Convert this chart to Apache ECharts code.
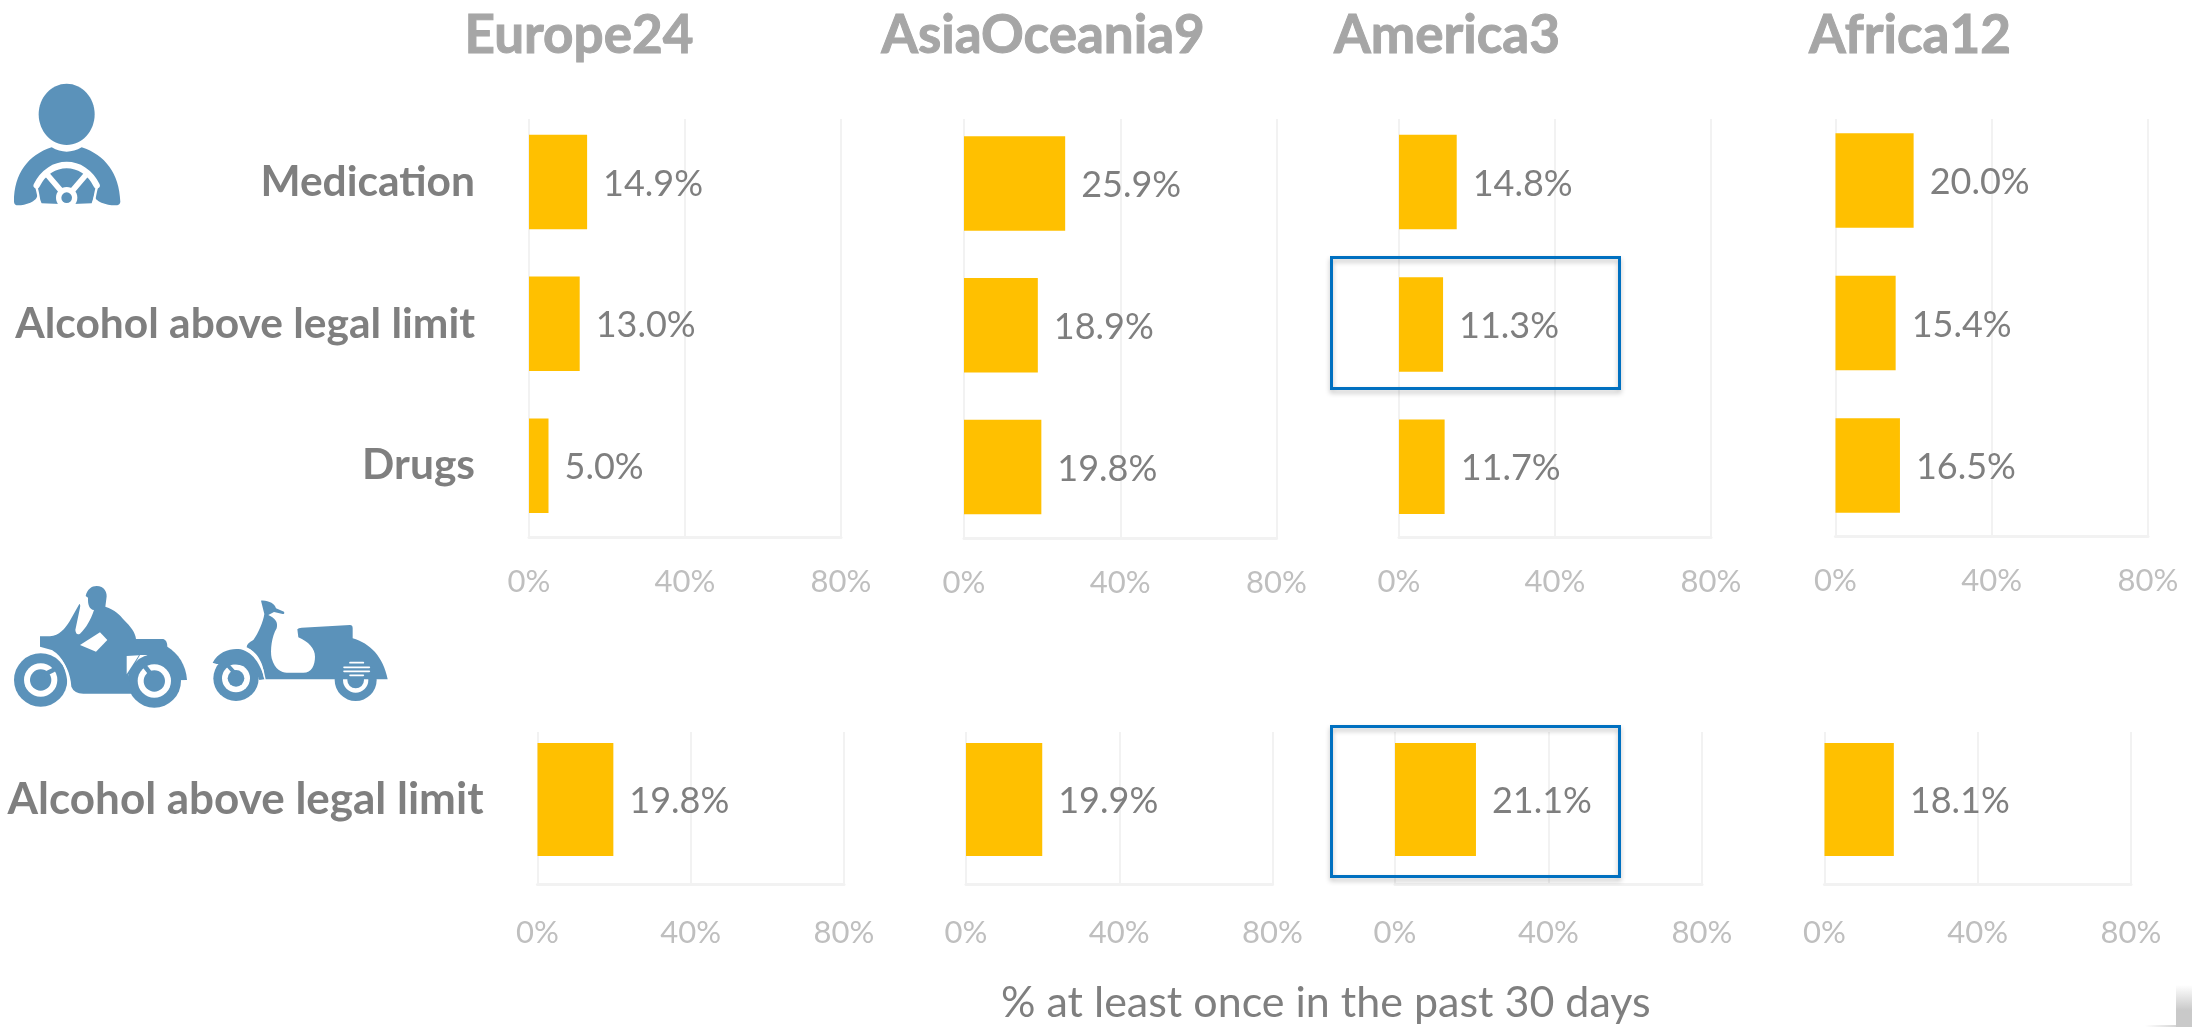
<!DOCTYPE html>
<html>
<head>
<meta charset="utf-8">
<title>Risky riding and driving by region</title>
<script src="https://cdn.jsdelivr.net/npm/echarts@6/dist/echarts.min.js"></script>
<style>
  html, body { margin: 0; padding: 0; background: #fff; }
  #main { width: 2192px; height: 1027px; }
</style>
</head>
<body>
<div id="main"></div>
<script>
// data
const regions = ['Europe24', 'AsiaOceania9', 'America3', 'Africa12'];
const driverRows = ['Medication', 'Alcohol above legal limit', 'Drugs'];
const riderRows = ['Alcohol above legal limit'];
const driverEurope = [14.9, 13.0, 5.0];
const driverAsia = [25.9, 18.9, 19.8];
const driverAmerica = [14.8, 11.3, 11.7];
const driverAfrica = [20.0, 15.4, 16.5];
const riderEurope = [19.8];
const riderAsia = [19.9];
const riderAmerica = [21.1];
const riderAfrica = [18.1];
const ticks = [0, 40, 80];
const xTitle = '% at least once in the past 30 days';

const FONT = 'Lato';
const BLUE = '#5b92ba';
const GRIDLINE = '#f2f2f2';

// pixel layout of the panels, kept apart from the values
const titleLayout = [574, 1038, 1442, 1905];
const driverLayout = [
  { left: 529, right: 841, top: 119, bottom: 537, barTop: 111, barBottom: 536.6 },
  { left: 964, right: 1276.5, top: 119, bottom: 538, barTop: 112.5, barBottom: 538 },
  { left: 1399, right: 1711, top: 119, bottom: 537.5, barTop: 110.8, barBottom: 538 },
  { left: 1835.5, right: 2148, top: 119, bottom: 536, barTop: 109.3, barBottom: 536.8 }
];
const riderLayout = [
  { left: 537.5, right: 844, top: 732, bottom: 884.5, barTop: 732, barBottom: 867 },
  { left: 966, right: 1272.5, top: 732, bottom: 884.5, barTop: 732, barBottom: 867 },
  { left: 1395, right: 1702, top: 732, bottom: 884.5, barTop: 732, barBottom: 867 },
  { left: 1824.5, right: 2131, top: 732, bottom: 884.5, barTop: 732, barBottom: 867 }
];

const grid = [], xAxis = [], yAxis = [], series = [];

function addPanel(box, rows, values, barWidth, showRows, tickMargin, rowFont, rowPad) {
  // frame grid: gridlines, bottom line and tick labels
  let g = grid.length;
  grid.push({ left: box.left, width: box.right - box.left, top: box.top, height: box.bottom - box.top });
  xAxis.push({
    type: 'value', gridIndex: g, min: ticks[0], max: ticks[2], interval: ticks[1],
    axisLine: { show: true, lineStyle: { color: GRIDLINE, width: 3 } },
    axisTick: { show: false },
    splitLine: { show: true, lineStyle: { color: GRIDLINE, width: 2 } },
    axisLabel: { formatter: '{value}%', color: '#bfbfbf', fontFamily: FONT, fontSize: 31, margin: tickMargin }
  });
  yAxis.push({ type: 'category', gridIndex: g, data: rows, show: false });

  // bar grid: same x scale, rows placed to sit where the picture has them
  g = grid.length;
  grid.push({ left: box.left, width: box.right - box.left, top: box.barTop, height: box.barBottom - box.barTop });
  xAxis.push({ type: 'value', gridIndex: g, min: ticks[0], max: ticks[2], show: false, splitLine: { show: false } });
  yAxis.push({
    type: 'category', gridIndex: g, data: rows, inverse: true,
    axisLine: { show: false }, axisTick: { show: false },
    axisLabel: {
      show: showRows, color: '#7f7f7f', fontFamily: FONT, fontWeight: 'bold', fontSize: rowFont, margin: 54,
      padding: [rowPad, 0, 0, 0]
    }
  });
  series.push({
    type: 'bar', xAxisIndex: g, yAxisIndex: g, data: values, barWidth: barWidth, z: 3,
    itemStyle: { color: '#ffc000' },
    label: {
      show: true, position: 'right', distance: 16, offset: [0, 2], color: '#7f7f7f', fontFamily: FONT, fontSize: 36,
      formatter: p => p.value.toFixed(1) + '%'
    }
  });
}

const driverValues = [driverEurope, driverAsia, driverAmerica, driverAfrica];
const riderValues = [riderEurope, riderAsia, riderAmerica, riderAfrica];
regions.forEach((r, i) => {
  addPanel(driverLayout[i], driverRows, driverValues[i], 94.5, i === 0, 29, 42.5, 0);
  addPanel(riderLayout[i], riderRows, riderValues[i], 113, i === 0, 33, 44, 4);
});

// icons, drawn in the 3x coordinates of the crop and scaled back down
const fill = (d, color) => ({ type: 'path', shape: { pathData: d }, style: { fill: color || BLUE } });
const line = (d, w, color) => ({
  type: 'path', shape: { pathData: d },
  style: { fill: 'none', stroke: color || '#fff', lineWidth: w, lineCap: 'round', lineJoin: 'round' }
});
const dot = (cx, cy, r, color) => ({ type: 'circle', shape: { cx, cy, r }, style: { fill: color || BLUE } });

const driverIcon = [
  { type: 'ellipse', shape: { cx: 200, cy: 133, rx: 84, ry: 92 }, style: { fill: BLUE } },
  fill('M155 232 Q200 258 245 232 C315 255 358 310 361 395 Q361 406 345 406 C320 406 283 395 283 375 L275 400 L200 403 L125 400 L112 375 C112 395 75 406 55 406 Q42 406 42 395 C42 310 85 255 155 232 Z'),
  line('M110 346 C130 305 165 285 200 285 C235 285 270 305 290 346', 19),
  line('M108 348 C114 365 116 385 120 404', 7),
  line('M292 348 C286 365 284 385 280 404', 7),
  line('M140 312 L200 382 L260 312', 17),
  dot(200, 383, 32, '#fff'),
  dot(200, 383, 16)
];

const motoIcon = [
  dot(122, 315, 80),
  dot(463, 318, 80),
  fill('M502 215 C535 235 558 270 561 315 L520 316 L440 240 Z'),
  fill('M120 184 L150 184 C178 182 195 160 208 140 L238 87 Q242 88 240 98 L226 165 Q228 182 240 176 C258 160 272 135 282 105 C268 103 263 88 264 68 L257 63 C262 42 275 33 290 33 C312 33 324 52 319 72 L316 95 C345 105 360 120 372 135 C392 155 406 172 408 192 L490 192 Q502 195 502 216 L480 240 L420 240 L385 300 L398 356 L250 356 Q222 355 214 335 C212 295 195 260 175 245 L155 225 L120 215 Z'),
  line('M155 228 C185 245 205 285 206 335', 6),
  fill('M240 210 L300 172 L322 195 L288 230 Z', '#fff'),
  fill('M380 243 L417 241 L380 298 Z', '#fff'),
  dot(122, 315, 50, '#fff'),
  dot(122, 315, 32),
  line('M130 300 L160 285', 14, BLUE),
  dot(463, 318, 50, '#fff'),
  dot(463, 318, 32),
  line('M455 300 L435 275', 14, BLUE)
];

const scooterIcon = [
  dot(108, 265, 68),
  dot(108, 265, 42, '#fff'),
  dot(108, 265, 25),
  line('M105 250 L85 228', 12, BLUE),
  dot(467, 270, 63),
  dot(467, 270, 38, '#fff'),
  dot(467, 270, 25),
  fill('M38 218 C55 185 90 175 115 177 C155 180 185 225 193 268 L178 270 C170 240 140 225 95 222 L50 222 Z'),
  fill('M183 32 C205 30 225 42 228 55 L252 65 Q255 72 248 72 L222 66 L205 75 C225 85 235 95 230 115 C215 140 210 180 215 205 C225 240 245 248 260 248 L310 248 C335 248 345 225 345 200 C345 175 325 155 295 142 L292 118 Q295 113 305 113 L450 105 Q458 105 458 115 L458 145 C510 160 550 200 563 268 L200 268 L192 268 C195 235 180 190 140 172 Q140 160 160 150 C175 130 190 95 193 72 Z'),
  line('M150 180 C175 200 190 235 195 268', 4),
  line('M450 218 L490 218', 5),
  line('M432 232 L508 232', 5),
  line('M432 244 L508 244', 5),
  line('M450 256 L490 256', 5)
];

const icons = [
  { x: 0, y: 70, parts: driverIcon },
  { x: 0, y: 575, parts: motoIcon },
  { x: 200, y: 590, parts: scooterIcon }
];

series.push({
  type: 'custom', coordinateSystem: 'none', silent: true, data: [0, 1, 2], z: 5,
  renderItem: (params, api) => {
    const ic = icons[api.value(0)];
    return { type: 'group', x: ic.x, y: ic.y, scaleX: 1 / 3, scaleY: 1 / 3, children: ic.parts };
  },
  encode: { value: 0 }
});

const titleStyle = {
  color: '#a6a6a6', fontFamily: FONT, fontWeight: 'bold', fontSize: 53,
  textBorderColor: '#a6a6a6', textBorderWidth: 1
};

const option = {
  backgroundColor: '#fff',
  animation: false,
  tooltip: { show: false },
  title: regions.map((r, i) => ({
    text: r, left: titleLayout[i], top: 4, textAlign: 'center', textStyle: titleStyle
  })),
  grid, xAxis, yAxis, series,
  graphic: [
    {
      type: 'text', left: 1001, top: 982,
      style: { text: xTitle, fill: '#7f7f7f', font: '43px ' + FONT }, z: 4
    },
    {
      type: 'rect', shape: { x: 1331.5, y: 257.5, width: 288, height: 131 }, z: 6,
      style: { fill: 'none', stroke: '#0070c0', lineWidth: 3, shadowBlur: 5, shadowOffsetY: 3, shadowColor: 'rgba(0,0,0,0.25)' }
    },
    {
      type: 'rect', shape: { x: 1331.5, y: 726.5, width: 288, height: 150 }, z: 6,
      style: { fill: 'none', stroke: '#0070c0', lineWidth: 3, shadowBlur: 5, shadowOffsetY: 3, shadowColor: 'rgba(0,0,0,0.25)' }
    },
    // grey scrap in the bottom right corner of the picture
    {
      type: 'rect', shape: { x: 2176, y: 985, width: 16, height: 42 }, z: 1,
      style: {
        fill: new echarts.graphic.LinearGradient(0, 0, 0, 1, [
          { offset: 0, color: '#ffffff' }, { offset: 0.6, color: '#c9c9c9' }, { offset: 1, color: '#c9c9c9' }
        ])
      }
    },
    {
      type: 'rect', shape: { x: 2145, y: 1025, width: 31, height: 2 }, z: 1,
      style: {
        fill: new echarts.graphic.LinearGradient(0, 0, 1, 0, [
          { offset: 0, color: '#ffffff' }, { offset: 1, color: '#d5d5d5' }
        ])
      }
    }
  ]
};

const chart = echarts.init(document.getElementById('main'));
chart.setOption(option);
</script>
</body>
</html>
